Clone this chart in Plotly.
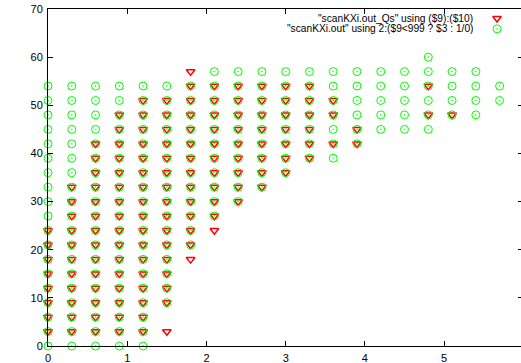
import plotly.graph_objects as go

# scan grid (x = KXi values)
kxi = [0.0, 0.3, 0.6, 0.9, 1.2, 1.5, 1.8, 2.1, 2.4, 2.7, 3.0,
       3.3, 3.6, 3.9, 4.2, 4.5, 4.8, 5.1, 5.4, 5.7, 6.0]

# "scanKXi.out_Qs" using ($9):($10)  -- y values per x column
qs_y = [
    [3, 6, 9, 12, 15, 18, 21, 24],
    [3, 6, 9, 12, 15, 18, 21, 24, 27, 30, 33],
    [3, 6, 9, 12, 15, 18, 21, 24, 27, 30, 33, 36, 39, 42],
    [3, 6, 9, 12, 15, 18, 21, 24, 27, 30, 33, 36, 39, 42, 45, 48],
    [3, 6, 9, 12, 15, 18, 21, 24, 27, 30, 33, 36, 39, 42, 45, 48, 51],
    [3, 9, 12, 15, 18, 21, 24, 27, 30, 33, 36, 39, 42, 45, 48, 51],
    [18, 21, 24, 27, 30, 33, 36, 39, 42, 45, 48, 51, 54, 57],
    [24, 27, 30, 33, 36, 39, 42, 45, 48, 51, 54],
    [30, 33, 36, 39, 42, 45, 48, 51, 54],
    [33, 36, 39, 42, 45, 48, 51, 54],
    [36, 39, 42, 45, 48, 51, 54],
    [39, 42, 45, 48, 51, 54],
    [42, 48, 51],
    [42, 45],
    [],
    [],
    [48, 54],
    [48],
    [],
    [],
    [],
]

# "scanKXi.out" using 2:($9<999 ? $3 : 1/0)
out_y = [
    [0, 3, 6, 9, 12, 15, 18, 21, 24, 27, 30, 33, 36, 39, 42, 45, 48, 51, 54],
    [0, 3, 6, 9, 12, 15, 18, 21, 24, 27, 30, 33, 36, 39, 42, 45, 48, 51, 54],
    [0, 3, 6, 9, 12, 15, 18, 21, 24, 27, 30, 33, 36, 39, 42, 45, 48, 51, 54],
    [0, 3, 6, 9, 12, 15, 18, 21, 24, 27, 30, 33, 36, 39, 42, 45, 48, 51, 54],
    [0, 3, 6, 9, 12, 15, 18, 21, 24, 27, 30, 33, 36, 39, 42, 45, 48, 51, 54],
    [9, 12, 15, 18, 21, 24, 27, 30, 33, 36, 39, 42, 45, 48, 51, 54],
    [21, 24, 27, 30, 33, 36, 39, 42, 45, 48, 51, 54],
    [27, 30, 33, 36, 39, 42, 45, 48, 51, 54, 57],
    [30, 33, 36, 39, 42, 45, 48, 51, 54, 57],
    [33, 36, 39, 42, 45, 48, 51, 54, 57],
    [36, 39, 42, 45, 48, 51, 54, 57],
    [39, 42, 45, 48, 51, 54, 57],
    [39, 42, 45, 48, 51, 54, 57],
    [42, 45, 48, 51, 54, 57],
    [45, 48, 51, 54, 57],
    [45, 48, 51, 54, 57],
    [45, 48, 51, 54, 57, 60],
    [48, 51, 54, 57],
    [48, 51, 54, 57],
    [51, 54],
    [51],
]

legend_labels = ['"scanKXi.out_Qs" using ($9):($10)',
                 '"scanKXi.out" using 2:($9<999 ? $3 : 1/0)']

x_ticks = [0, 1, 2, 3, 4, 5]
y_ticks = [0, 10, 20, 30, 40, 50, 60, 70]

def flatten(cols):
    xs, ys = [], []
    for xv, col in zip(kxi, cols):
        for yv in col:
            xs.append(xv)
            ys.append(yv)
    return xs, ys

qx, qy = flatten(qs_y)
ox, oy = flatten(out_y)

RED = "#ff0000"
GREEN = "#00ff00"
FONT = "Liberation Sans, Arial, sans-serif"

red_marker = dict(symbol="triangle-down-open", size=7.5, color=RED,
                  line=dict(color=RED, width=1.5))
green_marker = dict(symbol="circle-open-dot", size=8, color=GREEN,
                    line=dict(color=GREEN, width=1))

fig = go.Figure()
fig.add_trace(go.Scatter(x=qx, y=qy, mode="markers", marker=red_marker,
                         cliponaxis=False, showlegend=False, hoverinfo="skip"))
fig.add_trace(go.Scatter(x=ox, y=oy, mode="markers", marker=green_marker,
                         cliponaxis=False, showlegend=False, hoverinfo="skip"))
# empty trace so the right-hand (mirror tick) axis is drawn
fig.add_trace(go.Scatter(x=[], y=[], yaxis="y2", mode="markers",
                         showlegend=False, hoverinfo="skip"))

# legend keys (gnuplot style: text then symbol on the right)
key_x = 0.9493
key_y = [0.9724, 0.9412]
fig.add_trace(go.Scatter(x=[key_x], y=[key_y[0]], xaxis="x2", yaxis="y3",
                         mode="markers", marker=red_marker, cliponaxis=False,
                         showlegend=False, hoverinfo="skip"))
fig.add_trace(go.Scatter(x=[key_x], y=[key_y[1]], xaxis="x2", yaxis="y3",
                         mode="markers", marker=green_marker, cliponaxis=False,
                         showlegend=False, hoverinfo="skip"))

for lab, yy in zip(legend_labels, key_y):
    fig.add_annotation(text=lab, xref="paper", yref="paper", x=0.9027, y=yy,
                       xanchor="right", yanchor="middle", showarrow=False,
                       font=dict(family=FONT, size=10.2, color="black"))

axis_common = dict(showgrid=False, zeroline=False, ticks="inside", ticklen=5,
                   tickwidth=1, tickcolor="black",
                   tickfont=dict(family=FONT, size=11, color="black"))

fig.update_layout(
    width=521, height=363,
    margin=dict(l=48, r=0, t=9, b=17, pad=0),
    paper_bgcolor="white", plot_bgcolor="white",
    showlegend=False,
    xaxis=dict(range=[0, 5.97], tickvals=x_ticks, showline=True,
               linecolor="black", linewidth=1, mirror="ticks",
               ticklabelstandoff=2, layer="above traces", **axis_common),
    yaxis=dict(range=[0, 70], tickvals=y_ticks, showline=True,
               linecolor="black", linewidth=1, mirror=False,
               ticklabelstandoff=2, layer="above traces", **axis_common),
    xaxis2=dict(range=[0, 1], overlaying="x", visible=False),
    yaxis3=dict(range=[0, 1], overlaying="y", visible=False),
    yaxis2=dict(range=[0, 70], tickvals=y_ticks, overlaying="y", side="right",
                showticklabels=False, showline=False, showgrid=False,
                zeroline=False, ticks="inside", ticklen=3, tickwidth=1,
                tickcolor="black"),
)

fig.write_html("out.html")
